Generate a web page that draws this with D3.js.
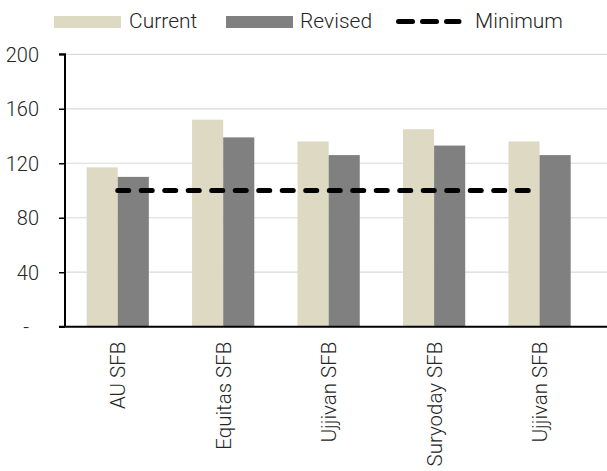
<!DOCTYPE html>
<html>
<head>
<meta charset="utf-8">
<script src="https://cdn.jsdelivr.net/npm/d3@7"></script>
<style>
  html, body { margin: 0; padding: 0; background: #fff; }
  svg text { font-family: "Roboto Light", Roboto, "Liberation Sans", sans-serif; font-weight: 300; fill: #262626; }
</style>
</head>
<body>
<svg id="chart" width="607" height="471"></svg>
<script>
const categories = ["AU SFB", "Equitas SFB", "Ujjivan SFB", "Suryoday SFB", "Ujjivan SFB "];
const currentValues = [117, 152, 136, 145, 136];
const revisedValues = [110, 139, 126, 133, 126];
const minimumValues = [100, 100, 100, 100, 100];
const seriesNames = ["Current", "Revised", "Minimum"];
const yTicks = [0, 40, 80, 120, 160, 200];
const yTickLabels = ["-", "40", "80", "120", "160", "200"];

const colors = { Current: "#DDD9C3", Revised: "#808080", Minimum: "#000000" };
const FONT = '"Roboto Light", Roboto, "Liberation Sans", sans-serif';

const svg = d3.select("#chart");
const plot = { left: 65, right: 592.3, top: 54.3, bottom: 326.7, gridRight: 607 };

const x = d3.scaleBand().domain(categories).range([plot.left, plot.right])
  .paddingInner(0.41).paddingOuter(0.205);
const xSub = d3.scaleBand().domain(["Current", "Revised"]).range([0, x.bandwidth()]);
const y = d3.scaleLinear().domain([0, 200]).range([plot.bottom, plot.top]);

// gridlines
svg.append("g").selectAll("line").data(yTicks.filter(d => d > 0)).join("line")
  .attr("x1", plot.left).attr("x2", plot.gridRight)
  .attr("y1", d => y(d)).attr("y2", d => y(d))
  .attr("stroke", "#d9d9d9").attr("stroke-width", 1.2);

// bars
const rows = categories.map((c, i) => ({ cat: c, Current: currentValues[i], Revised: revisedValues[i] }));
const groups = svg.append("g").selectAll("g").data(rows).join("g")
  .attr("transform", d => `translate(${x(d.cat)},0)`);
groups.selectAll("rect").data(d => ["Current", "Revised"].map(k => ({ key: k, value: d[k] }))).join("rect")
  .attr("x", d => xSub(d.key)).attr("width", xSub.bandwidth())
  .attr("y", d => y(d.value)).attr("height", d => y(0) - y(d.value))
  .attr("fill", d => colors[d.key]);

// minimum dashed line
const line = d3.line().x((d, i) => x(categories[i]) + x.bandwidth() / 2).y(d => y(d));
svg.append("path").datum(minimumValues).attr("d", line)
  .attr("fill", "none").attr("stroke", "#000").attr("stroke-width", 5)
  .attr("stroke-linecap", "round").attr("stroke-dasharray", "11,12.5");

// y axis
const yAxis = d3.axisLeft(y).tickValues(yTicks).tickSize(6).tickFormat((d, i) => yTickLabels[i]);
const yg = svg.append("g").attr("transform", `translate(${plot.left},0)`).call(yAxis);
yg.select(".domain").attr("stroke", "#000").attr("stroke-width", 2)
  .attr("d", `M-6,${plot.top}H0V${plot.bottom}`);
yg.selectAll(".tick line").attr("stroke", "#000").attr("stroke-width", 1.5);
yg.selectAll(".tick text").attr("x", -26).attr("dy", "0.36em")
  .style("font-size", "20px").style("font-family", FONT).style("font-weight", 300).attr("fill", "#262626")
  .filter(d => d === 0).attr("x", -36);

// x axis
const xAxis = d3.axisBottom(x).tickSize(0);
const xg = svg.append("g").attr("transform", `translate(0,${plot.bottom})`).call(xAxis);
xg.select(".domain").attr("stroke", "#000").attr("stroke-width", 2)
  .attr("d", `M${plot.left - 6},0H${plot.gridRight}`);
xg.selectAll(".tick text")
  .attr("transform", "rotate(-90)")
  .attr("text-anchor", "end").attr("x", -15).attr("y", 0).attr("dy", "0.36em")
  .style("font-size", "20.5px").style("font-family", FONT).style("font-weight", 300).attr("fill", "#262626");

// legend
const legend = svg.append("g");
const legendItems = [
  { name: seriesNames[0], sx: 54, tx: 129 },
  { name: seriesNames[1], sx: 226, tx: 300 },
  { name: seriesNames[2], sx: 396, tx: 475 }
];
legendItems.forEach(it => {
  if (it.name === "Minimum") {
    legend.append("line").attr("x1", it.sx + 2.5).attr("x2", it.sx + 63)
      .attr("y1", 21.5).attr("y2", 21.5)
      .attr("stroke", "#000").attr("stroke-width", 5).attr("stroke-linecap", "round")
      .attr("stroke-dasharray", "14,10");
  } else {
    legend.append("rect").attr("x", it.sx).attr("y", 16).attr("width", 67).attr("height", 12)
      .attr("fill", colors[it.name]);
  }
  legend.append("text").attr("x", it.tx).attr("y", 28).style("font-size", "21px").text(it.name);
});
</script>
</body>
</html>
